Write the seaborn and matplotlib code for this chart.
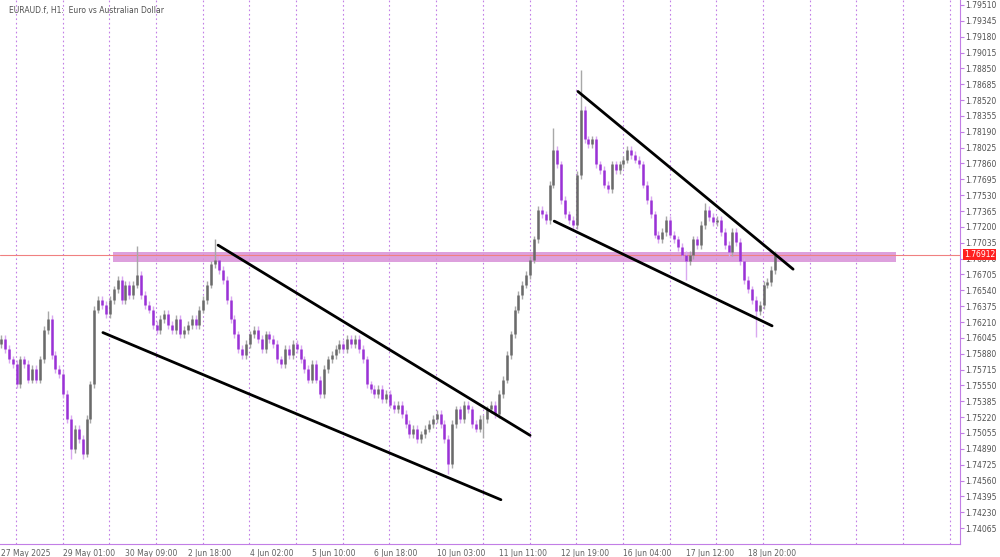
import numpy as np
import pandas as pd
import seaborn as sns
import matplotlib.pyplot as plt

# ---- data (2h bars) ----
closes = [
    1.7603, 1.7593, 1.7582, 1.7577, 1.7556, 1.7582, 1.7577, 1.7561, 1.7572, 1.7561,
    1.7582, 1.7613, 1.7624, 1.7587, 1.7572, 1.7567, 1.7546, 1.7520, 1.7489, 1.7510,
    1.7499, 1.7484, 1.7520, 1.7556, 1.7634, 1.7644, 1.7639, 1.7629, 1.7644, 1.7655,
    1.7665, 1.7644, 1.7660, 1.7649, 1.7660, 1.7670, 1.7649, 1.7639, 1.7634, 1.7618,
    1.7613, 1.7624, 1.7629, 1.7618, 1.7613, 1.7624, 1.7608, 1.7613, 1.7618, 1.7624,
    1.7618, 1.7634, 1.7644, 1.7660, 1.7681, 1.7686, 1.7675, 1.7665, 1.7644, 1.7624,
    1.7608, 1.7593, 1.7587, 1.7598, 1.7608, 1.7613, 1.7603, 1.7593, 1.7608, 1.7603,
    1.7598, 1.7582, 1.7577, 1.7593, 1.7587, 1.7598, 1.7593, 1.7582, 1.7572, 1.7561,
    1.7577, 1.7561, 1.7546, 1.7572, 1.7582, 1.7587, 1.7593, 1.7598, 1.7593, 1.7603,
    1.7598, 1.7603, 1.7593, 1.7582, 1.7556, 1.7551, 1.7546, 1.7551, 1.7541, 1.7546,
    1.7535, 1.7530, 1.7535, 1.7525, 1.7515, 1.7504, 1.7510, 1.7499, 1.7504, 1.7510,
    1.7515, 1.7520, 1.7525, 1.7515, 1.7499, 1.7473, 1.7515, 1.7530, 1.7520, 1.7535,
    1.7530, 1.7515, 1.7510, 1.7520, 1.7520, 1.7530, 1.7535, 1.7525, 1.7546, 1.7561,
    1.7587, 1.7608, 1.7634, 1.7649, 1.7660, 1.7670, 1.7686, 1.7707, 1.7738, 1.7733,
    1.7727, 1.7764, 1.7800, 1.7785, 1.7748, 1.7733, 1.7727, 1.7722, 1.7774, 1.7842,
    1.7811, 1.7806, 1.7811, 1.7785, 1.7779, 1.7764, 1.7759, 1.7785, 1.7779, 1.7785,
    1.7790, 1.7800, 1.7795, 1.7790, 1.7785, 1.7764, 1.7748, 1.7733, 1.7712, 1.7707,
    1.7715, 1.7727, 1.7712, 1.7707, 1.7699, 1.7691, 1.7684, 1.7691, 1.7707, 1.7701,
    1.7722, 1.7738, 1.7730, 1.7725, 1.7727, 1.7715, 1.7701, 1.7694, 1.7715, 1.7704,
    1.7684, 1.7665, 1.7655, 1.7644, 1.7632, 1.7639, 1.7660, 1.7663, 1.7675, 1.76912,
]
first_open = 1.7598
# spike wicks (bar index -> extreme)
spike_highs = {35: 1.7700, 55: 1.7707, 142: 1.7823, 149: 1.7883, 12: 1.7632, 181: 1.7745}
spike_lows = {18: 1.7478, 21: 1.7478, 115: 1.7463, 176: 1.7665, 194: 1.7605, 124: 1.7500}

y_ticks = [1.79510, 1.79345, 1.79180, 1.79015, 1.78850, 1.78685, 1.78520, 1.78355,
           1.78190, 1.78025, 1.77860, 1.77695, 1.77530, 1.77365, 1.77200, 1.77035,
           1.76870, 1.76705, 1.76540, 1.76375, 1.76210, 1.76045, 1.75880, 1.75715,
           1.75550, 1.75385, 1.75220, 1.75055, 1.74890, 1.74725, 1.74560, 1.74395,
           1.74230, 1.74065]
x_labels = ['27 May 2025', '29 May 01:00', '30 May 09:00', '2 Jun 18:00', '4 Jun 02:00',
            '5 Jun 10:00', '6 Jun 18:00', '10 Jun 03:00', '11 Jun 11:00', '12 Jun 19:00',
            '16 Jun 04:00', '17 Jun 12:00', '18 Jun 20:00']
x_label_bars = [0, 16, 32, 48, 64, 80, 96, 112, 128, 144, 160, 176, 192]

# trendlines: (start bar, start price, end bar, end price)
trend_lines = [
    (26.2, 1.7610, 128.5, 1.7436),
    (55.8, 1.7701, 136.0, 1.7503),
    (148.3, 1.7861, 203.6, 1.7676),
    (142.2, 1.7726, 198.2, 1.7617),
]
zone_low, zone_high = 1.7683, 1.7694
zone_start, zone_end = 28.8, 230.0
last_price = 1.76912

sns.set_style('white')
plt.rcParams['font.family'] = 'DejaVu Sans'
fig = plt.figure(figsize=(10, 5.57), dpi=100)
ax = fig.add_axes([0.0, 0.0235, 0.96, 0.9765])

df = pd.DataFrame({'close': closes})
df['open'] = [first_open] + closes[:-1]
df['bar'] = np.arange(len(df))
wick = 0.0004
df['high'] = df[['open', 'close']].max(axis=1) + wick
df['low'] = df[['open', 'close']].min(axis=1) - wick
for k, v in spike_highs.items():
    df.loc[k, 'high'] = v
for k, v in spike_lows.items():
    df.loc[k, 'low'] = v
up = df['close'] >= df['open']

# day separators
for xb in np.arange(3.86, 247, 12):
    ax.axvline(xb, color='#c27ee6', lw=0.8, ls=(0, (1.5, 2.5)), zorder=0)

# zone + last price line
ax.fill_between([zone_start, zone_end], zone_low, zone_high, color='#d890d8', alpha=0.85, lw=0, zorder=1)
ax.axhline(last_price, color='#f08080', lw=0.8, zorder=1)

ax.vlines(df.loc[up, 'bar'], df.loc[up, 'low'], df.loc[up, 'high'], color='#a8a8a8', lw=1, zorder=2)
ax.vlines(df.loc[~up, 'bar'], df.loc[~up, 'low'], df.loc[~up, 'high'], color='#d9a8f0', lw=1, zorder=2)
ax.vlines(df.loc[up, 'bar'], df.loc[up, 'open'], df.loc[up, 'close'], color='#6a6a6a', lw=1.8, zorder=3)
ax.vlines(df.loc[~up, 'bar'], df.loc[~up, 'close'], df.loc[~up, 'open'], color='#9a32d6', lw=1.8, zorder=3)

for x0, y0, x1, y1 in trend_lines:
    tl = pd.DataFrame({'bar': [x0, x1], 'price': [y0, y1]})
    sns.lineplot(data=tl, x='bar', y='price', color='black', lw=2, ax=ax, zorder=4)

ax.set_xlim(-0.25, 246.5)
ax.set_ylim(1.73900, 1.79562)
ax.yaxis.tick_right()
ax.set_yticks(y_ticks)
ax.set_yticklabels([f'{t:.5f}' for t in y_ticks], fontsize=5.5, color='#505050')
ax.set_xticks(x_label_bars)
ax.set_xticklabels(x_labels, fontsize=5.5, color='#606060', ha='left')
ax.tick_params(axis='both', length=3, color='#c27ee6', pad=1)
ax.set_xlabel('')
ax.set_ylabel('')
for s in ['top', 'left']:
    ax.spines[s].set_visible(False)
for s in ['right', 'bottom']:
    ax.spines[s].set_color('#c27ee6')

ax.text(2, 1.79500, 'EURAUD.f, H1:  Euro vs Australian Dollar', fontsize=5.5, color='#505050', va='top')
ax.text(247.5, last_price, f'{last_price:.5f}', fontsize=5.5, color='white', va='center',
        ha='left', bbox=dict(boxstyle='square,pad=0.15', fc='#ff2020', ec='none'),
        clip_on=False, zorder=10)

fig.savefig('out.png', dpi=100)
